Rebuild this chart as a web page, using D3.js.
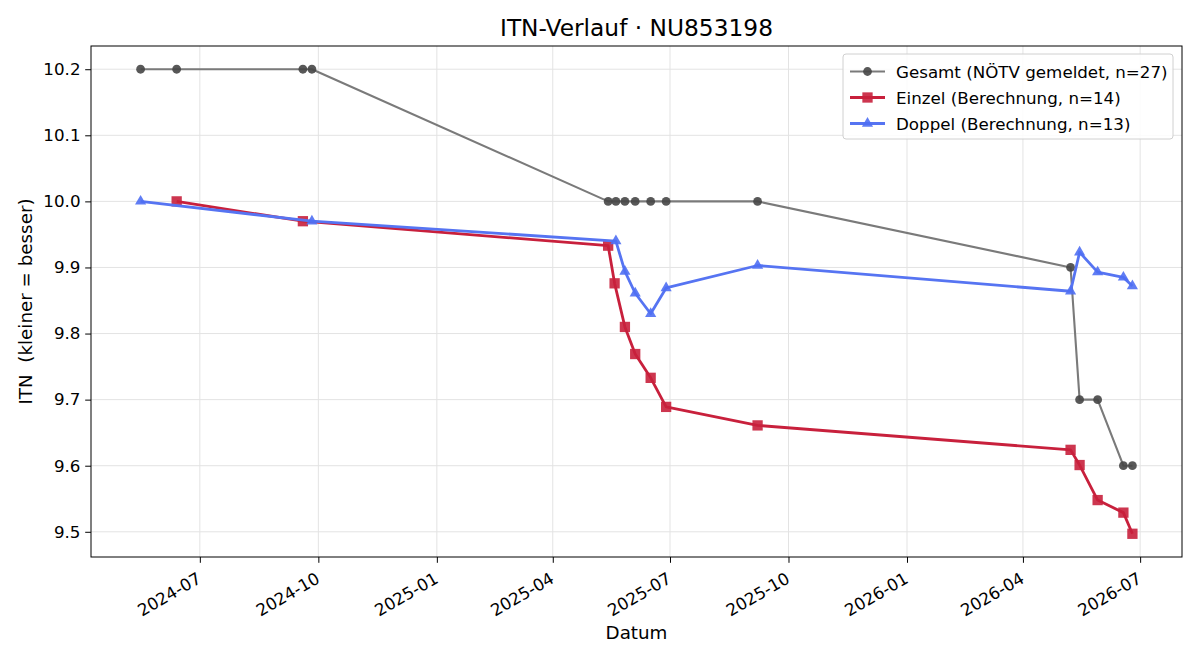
<!DOCTYPE html>
<html>
<head>
<meta charset="utf-8">
<script src="https://cdn.jsdelivr.net/npm/d3@7"></script>
<style>
  body { margin: 0; background: #fff; }
  text { font-family: 'DejaVu Sans', sans-serif; }
</style>
</head>
<body>
<div id="chart"></div>
<script>
// Data
const gesamtDates = ['2024-05-16', '2024-06-13', '2024-09-19', '2024-09-26', '2025-05-14', '2025-05-20', '2025-05-27', '2025-06-04', '2025-06-16', '2025-06-28', '2025-09-07', '2026-05-08', '2026-05-15', '2026-05-29', '2026-06-18', '2026-06-25']
const gesamtValues = [10.2, 10.2, 10.2, 10.2, 10.0, 10.0, 10.0, 10.0, 10.0, 10.0, 10.0, 9.9, 9.7, 9.7, 9.6, 9.6]

const einzelDates = ['2024-06-13', '2024-09-19', '2025-05-14', '2025-05-19', '2025-05-27', '2025-06-04', '2025-06-16', '2025-06-28', '2025-09-07', '2026-05-08', '2026-05-15', '2026-05-29', '2026-06-18', '2026-06-25']
const einzelValues = [10.0, 9.97, 9.933, 9.876, 9.81, 9.769, 9.733, 9.689, 9.661, 9.624, 9.601, 9.548, 9.529, 9.497]

const doppelDates = ['2024-05-16', '2024-09-26', '2025-05-20', '2025-05-27', '2025-06-04', '2025-06-16', '2025-06-28', '2025-09-07', '2026-05-08', '2026-05-15', '2026-05-29', '2026-06-18', '2026-06-25']
const doppelValues = [10.0, 9.97, 9.94, 9.894, 9.861, 9.83, 9.869, 9.903, 9.864, 9.923, 9.893, 9.885, 9.872]

const xTickLabels = ['2024-07', '2024-10', '2025-01', '2025-04', '2025-07', '2025-10', '2026-01', '2026-04', '2026-07']
const yTicks = [9.5, 9.6, 9.7, 9.8, 9.9, 10.0, 10.1, 10.2]

const seriesNames = ['Gesamt (NÖTV gemeldet, n=27)', 'Einzel (Berechnung, n=14)', 'Doppel (Berechnung, n=13)']

const width = 1200
const height = 660
const margin = {left: 91, right: 18, top: 46, bottom: 103}
const innerW = width - margin.left - margin.right
const innerH = height - margin.top - margin.bottom

const parse = d3.utcParse('%Y-%m-%d')
const parseMonth = d3.utcParse('%Y-%m')

const series = [
  {name: seriesNames[0], dates: gesamtDates, values: gesamtValues, line: '#7a7a7a', marker: '#464646', shape: 'circle', lw: 2.1},
  {name: seriesNames[1], dates: einzelDates, values: einzelValues, line: '#c8203c', marker: '#c8203c', shape: 'square', lw: 2.8},
  {name: seriesNames[2], dates: doppelDates, values: doppelValues, line: '#5674f2', marker: '#4f6ff3', shape: 'triangle', lw: 2.8}
].map(s => ({...s, points: s.dates.map((d, i) => ({date: parse(d), v: s.values[i]}))}))

// Scales with matplotlib-like 5% padding
const allDates = series.flatMap(s => s.points.map(p => +p.date))
const allVals = series.flatMap(s => s.values)
const dMin = d3.min(allDates), dMax = d3.max(allDates)
const dPad = (dMax - dMin) * 0.05
const vMin = d3.min(allVals), vMax = d3.max(allVals)
const vPad = (vMax - vMin) * 0.05

const xScale = d3.scaleUtc().domain([new Date(dMin - dPad), new Date(dMax + dPad)]).range([0, innerW])
const yScale = d3.scaleLinear().domain([vMin - vPad, vMax + vPad]).range([innerH, 0])

const svg = d3.select('#chart')
  .append('svg')
  .attr('width', width)
  .attr('height', height)

const g = svg.append('g')
  .attr('transform', `translate(${margin.left},${margin.top})`)

// Grid
const xTickDates = xTickLabels.map(t => parseMonth(t))
g.append('g')
  .selectAll('line')
  .data(xTickDates)
  .join('line')
  .attr('x1', d => xScale(d)).attr('x2', d => xScale(d))
  .attr('y1', 0).attr('y2', innerH)
  .style('stroke', '#e3e3e3')
  .style('stroke-width', 1)
g.append('g')
  .selectAll('line')
  .data(yTicks)
  .join('line')
  .attr('x1', 0).attr('x2', innerW)
  .attr('y1', d => yScale(d)).attr('y2', d => yScale(d))
  .style('stroke', '#e3e3e3')
  .style('stroke-width', 1)

// Axes
const xAxis = g.append('g')
  .attr('transform', `translate(0,${innerH})`)
  .call(d3.axisBottom(xScale)
    .tickValues(xTickDates)
    .tickFormat(d3.utcFormat('%Y-%m'))
    .tickSize(5.8)
    .tickSizeOuter(0))
xAxis.select('.domain').remove()
xAxis.selectAll('.tick line').style('stroke', '#000').style('stroke-width', 1)
xAxis.selectAll('.tick text')
  .style('font-size', '16.7px')
  .style('fill', '#000')
  .attr('text-anchor', 'end')
  .attr('dy', null)
  .attr('y', 0)
  .attr('transform', 'translate(2,25) rotate(-30)')

const yAxis = g.append('g')
  .call(d3.axisLeft(yScale)
    .tickValues(yTicks)
    .tickFormat(d3.format('.1f'))
    .tickSize(5.8)
    .tickSizeOuter(0))
yAxis.select('.domain').remove()
yAxis.selectAll('.tick text')
  .style('font-size', '16.7px')
  .style('fill', '#000')
  .attr('x', -10.5)
yAxis.selectAll('.tick line').style('stroke', '#000').style('stroke-width', 1)

// Series
const linePath = d3.line()
  .x(d => xScale(d.date))
  .y(d => yScale(d.v))

const symbolFor = shape => {
  if (shape === 'circle') return d3.symbol().type(d3.symbolCircle).size(Math.PI * 4.4 * 4.4)
  if (shape === 'square') return d3.symbol().type(d3.symbolSquare).size(10.3 * 10.3)
  return d3.symbol().type(d3.symbolTriangle).size(54)
}

series.forEach(s => {
  const gs = g.append('g')
  gs.append('path')
    .attr('d', linePath(s.points))
    .style('fill', 'none')
    .style('stroke', s.line)
    .style('stroke-width', s.lw)
    .style('stroke-linejoin', 'round')
  gs.selectAll('.marker')
    .data(s.points)
    .join('path')
    .attr('class', 'marker')
    .attr('d', symbolFor(s.shape))
    .attr('transform', d => `translate(${xScale(d.date)},${yScale(d.v)})`)
    .style('fill', s.marker)
    .style('fill-opacity', 0.9)
})

// Frame
g.append('rect')
  .attr('width', innerW)
  .attr('height', innerH)
  .style('fill', 'none')
  .style('stroke', '#000')
  .style('stroke-width', 1)

// Title and axis labels
svg.append('text')
  .attr('x', margin.left + innerW / 2)
  .attr('y', 36)
  .style('text-anchor', 'middle')
  .style('font-size', '23.3px')
  .text('ITN-Verlauf · NU853198')

svg.append('text')
  .attr('x', margin.left + innerW / 2)
  .attr('y', 639)
  .style('text-anchor', 'middle')
  .style('font-size', '18.3px')
  .text('Datum')

svg.append('text')
  .attr('transform', `translate(32,${margin.top + innerH / 2}) rotate(270)`)
  .style('text-anchor', 'middle')
  .style('font-size', '18.3px')
  .style('white-space', 'pre')
  .text('ITN  (kleiner = besser)')

// Legend
const legend = svg.append('g')
  .attr('transform', 'translate(843,54)')
legend.append('rect')
  .attr('width', 330)
  .attr('height', 85)
  .attr('rx', 3)
  .style('fill', '#fff')
  .style('fill-opacity', 0.85)
  .style('stroke', '#d0d0d0')
  .style('stroke-width', 1)

series.forEach((s, i) => {
  const ly = 17.5 + i * 26
  legend.append('line')
    .attr('x1', 7).attr('x2', 42)
    .attr('y1', ly).attr('y2', ly)
    .style('stroke', s.line)
    .style('stroke-width', s.lw)
  legend.append('path')
    .attr('d', symbolFor(s.shape)())
    .attr('transform', `translate(24.5,${ly})`)
    .style('fill', s.marker)
    .style('fill-opacity', 0.9)
  legend.append('text')
    .attr('x', 53)
    .attr('y', ly + 6)
    .style('font-size', '16.7px')
    .text(s.name)
})
</script>
</body>
</html>
